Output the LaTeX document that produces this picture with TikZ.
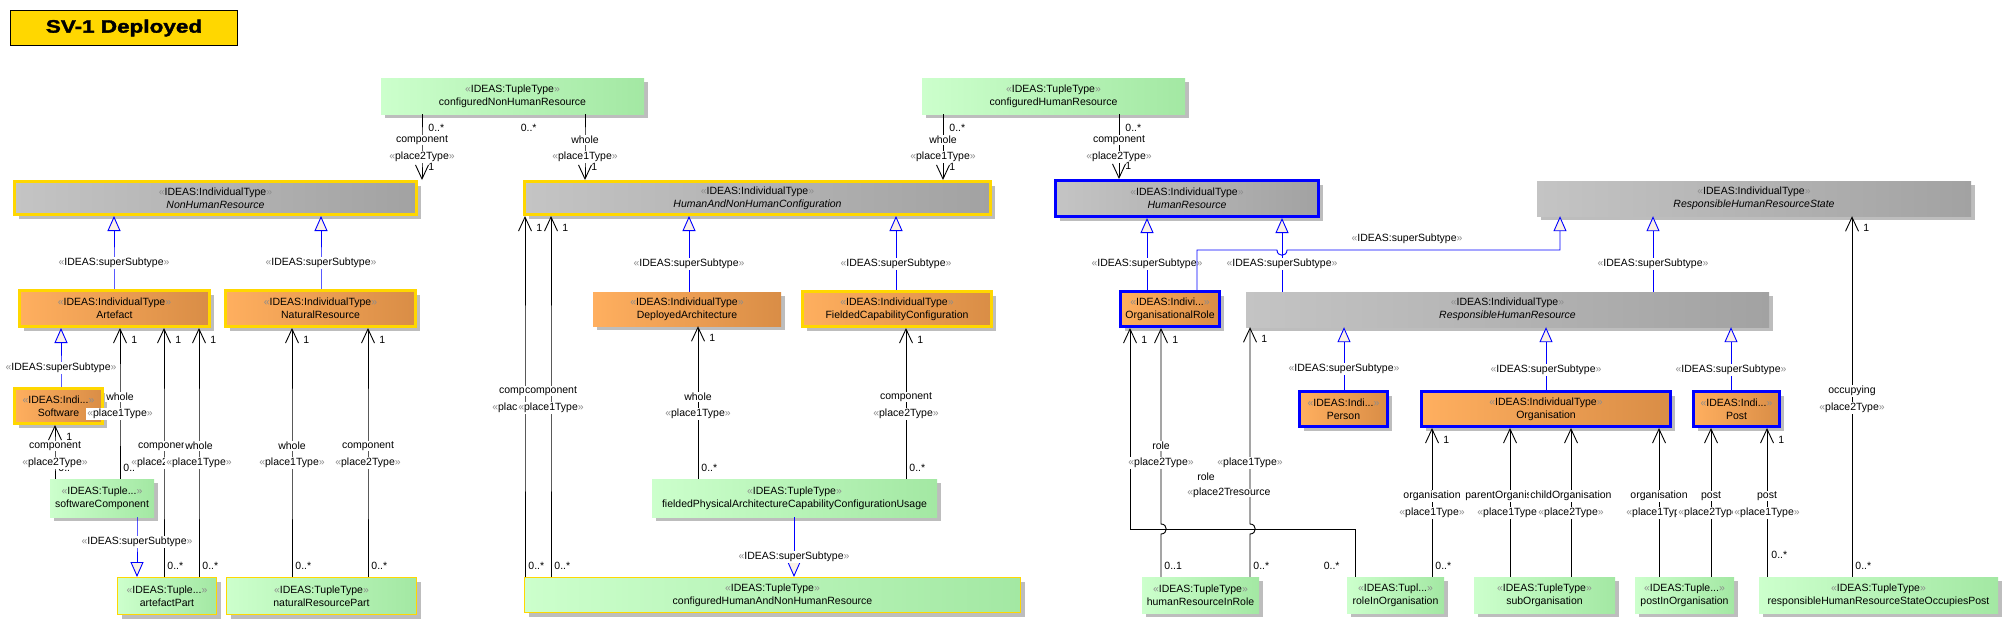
\documentclass[tikz,border=0pt]{standalone}
\usepackage{fontspec}
\setmainfont{Liberation Sans}
\newfontfamily\titlefont[FakeStretch=1.25,FakeBold=2]{Liberation Sans}
\usetikzlibrary{arrows.meta,shadows}

\definecolor{ideasyellow}{HTML}{FFD700}
\definecolor{ideasblue}{HTML}{0000FF}
\definecolor{greyL}{HTML}{C4C4C4}
\definecolor{greyR}{HTML}{A2A2A2}
\definecolor{orangeL}{HTML}{FFAF5F}
\definecolor{orangeR}{HTML}{D98D46}
\definecolor{greenL}{HTML}{CCFFCC}
\definecolor{greenR}{HTML}{A3E8A3}
\definecolor{genfill}{HTML}{FBF1E6}
\definecolor{guil}{HTML}{8C8C8C}
\definecolor{shade}{HTML}{BDBDBD}

\newcommand{\lblfont}{\fontsize{10.5}{13}\selectfont}
\newcommand{\stereo}[1]{{\color{guil}«}#1{\color{guil}»}}

\tikzset{
  box/.style={rectangle, inner sep=0pt, align=center, font=\lblfont,
    drop shadow={shadow xshift=4pt, shadow yshift=-4pt, fill=shade, opacity=1}},
  greybox/.style={box, left color=greyL, right color=greyR},
  orangebox/.style={box, left color=orangeL, right color=orangeR},
  greenbox/.style={box, left color=greenL, right color=greenR},
  yellowline/.style={draw=ideasyellow, line width=3pt},
  blueline/.style={draw=ideasblue, line width=3pt},
  thinyellow/.style={draw=ideasyellow, line width=1pt},
  assoc/.style={line width=0.9pt, -{Straight Barb[length=14pt, width=13pt]}},
  gen/.style={draw=ideasblue, line width=0.9pt, -{Triangle[length=15pt, width=13pt, fill=genfill]}},
  lbl/.style={fill=white, inner sep=1pt, font=\lblfont},
  mult/.style={inner sep=1pt, font=\lblfont},
  onebelow/.style={mult, anchor=north west, xshift=10pt, yshift=-7pt},
  oneabove/.style={mult, anchor=south west, xshift=5pt, yshift=8pt},
  manyabove/.style={mult, anchor=south west, xshift=2pt, yshift=6pt},
  manybelow/.style={mult, anchor=north west, xshift=5pt, yshift=-9pt}
}

\begin{document}
\begin{tikzpicture}[x=1pt, y=-1pt]
        \useasboundingbox (0,0) rectangle (2009,626);

        % Define the nodes
        \node[draw=black, fill=ideasyellow, line width=1pt, minimum width=227pt, minimum height=35pt,
              font=\titlefont\fontsize{18}{20}\selectfont\bfseries] (title) at (124,28) {SV-1 Deployed};

        \node[greenbox, minimum width=263pt, minimum height=36pt] (cnhr) at (512.5,96) {\stereo{IDEAS:TupleType}\\configuredNonHumanResource};
        \node[greenbox, minimum width=263pt, minimum height=36pt] (chr) at (1053.5,96) {\stereo{IDEAS:TupleType}\\configuredHumanResource};

        \node[greybox, yellowline, minimum width=402pt, minimum height=33pt] (nhr) at (215.5,198) {\stereo{IDEAS:IndividualType}\\\textit{NonHumanResource}};
        \node[greybox, yellowline, minimum width=466pt, minimum height=33pt] (hanhc) at (757.5,198) {\stereo{IDEAS:IndividualType}\\\textit{HumanAndNonHumanConfiguration}};
        \node[greybox, blueline, minimum width=263pt, minimum height=36pt] (hr) at (1187,198.5) {\stereo{IDEAS:IndividualType}\\\textit{HumanResource}};
        \node[greybox, minimum width=434pt, minimum height=35pt] (rhrs) at (1754,198.5) {\stereo{IDEAS:IndividualType}\\\textit{ResponsibleHumanResourceState}};

        \node[orangebox, yellowline, minimum width=190pt, minimum height=36pt] (artefact) at (114.5,308.5) {\stereo{IDEAS:IndividualType}\\Artefact};
        \node[orangebox, yellowline, minimum width=190pt, minimum height=36pt] (natres) at (320.5,308.5) {\stereo{IDEAS:IndividualType}\\NaturalResource};
        \node[orangebox, minimum width=188pt, minimum height=34pt] (deparch) at (687,309) {\stereo{IDEAS:IndividualType}\\DeployedArchitecture};
        \node[orangebox, yellowline, minimum width=189pt, minimum height=35pt] (fcc) at (897,309) {\stereo{IDEAS:IndividualType}\\FieldedCapabilityConfiguration};
        \node[orangebox, blueline, minimum width=99pt, minimum height=35pt] (orgrole) at (1170,309) {\stereo{IDEAS:Indivi...}\\OrganisationalRole};
        \node[greybox, minimum width=523pt, minimum height=35pt] (rhr) at (1507.5,309.5) {\stereo{IDEAS:IndividualType}\\\textit{ResponsibleHumanResource}};

        \node[orangebox, yellowline, minimum width=88pt, minimum height=35pt] (software) at (58.5,406) {\stereo{IDEAS:Indi...}\\Software};
        \node[orangebox, blueline, minimum width=88pt, minimum height=35pt] (person) at (1343.5,409) {\stereo{IDEAS:Indi...}\\Person};
        \node[orangebox, blueline, minimum width=249pt, minimum height=35pt] (organisation) at (1546,409) {\stereo{IDEAS:IndividualType}\\Organisation};
        \node[orangebox, blueline, minimum width=86pt, minimum height=35pt] (post) at (1736.5,409) {\stereo{IDEAS:Indi...}\\Post};

        \node[greenbox, minimum width=104pt, minimum height=38pt] (swcomp) at (102,498) {\stereo{IDEAS:Tuple...}\\softwareComponent};
        \node[greenbox, minimum width=285pt, minimum height=38pt] (fpaccu) at (794.5,498) {\stereo{IDEAS:TupleType}\\fieldedPhysicalArchitectureCapabilityConfigurationUsage};

        \node[greenbox, thinyellow, minimum width=99pt, minimum height=37pt] (artpart) at (167,596) {\stereo{IDEAS:Tuple...}\\artefactPart};
        \node[greenbox, thinyellow, minimum width=190pt, minimum height=37pt] (natrespart) at (321.5,596) {\stereo{IDEAS:TupleType}\\naturalResourcePart};
        \node[greenbox, thinyellow, minimum width=496pt, minimum height=35pt] (chanhr) at (772.5,595) {\stereo{IDEAS:TupleType}\\configuredHumanAndNonHumanResource};
        \node[greenbox, minimum width=117pt, minimum height=36pt] (hrinrole) at (1200.5,595) {\stereo{IDEAS:TupleType}\\humanResourceInRole};
        \node[greenbox, minimum width=97pt, minimum height=36pt] (roleinorg) at (1395.5,595) {\stereo{IDEAS:Tupl...}\\roleInOrganisation};
        \node[greenbox, minimum width=141pt, minimum height=36pt] (suborg) at (1544.5,595) {\stereo{IDEAS:TupleType}\\subOrganisation};
        \node[greenbox, minimum width=99pt, minimum height=36pt] (postinorg) at (1684.5,595) {\stereo{IDEAS:Tuple...}\\postInOrganisation};
        \node[greenbox, minimum width=239pt, minimum height=36pt] (rhrsop) at (1878.5,595) {\stereo{IDEAS:TupleType}\\responsibleHumanResourceStateOccupiesPost};

        % Draw the associations
        \draw[assoc] (cnhr.south -| 422,0) node[manybelow]{0..*} -- (422,140) node[lbl]{component}
          -- (422,157) node[lbl]{\stereo{place2Type}} -- (nhr.north -| 422,0) node[oneabove]{1};
        \draw[assoc] (cnhr.south -| 585,0) node[mult, anchor=north east, xshift=-47pt, yshift=-9pt]{0..*} -- (585,140) node[lbl]{whole}
          -- (585,157) node[lbl]{\stereo{place1Type}} -- (hanhc.north -| 585,0) node[oneabove]{1};
        \draw[assoc] (chr.south -| 943,0) node[manybelow]{0..*} -- (943,140) node[lbl]{whole}
          -- (943,157) node[lbl]{\stereo{place1Type}} -- (hanhc.north -| 943,0) node[oneabove]{1};
        \draw[assoc] (chr.south -| 1119,0) node[manybelow]{0..*} -- (1119,140) node[lbl]{component}
          -- (1119,157) node[lbl]{\stereo{place2Type}} -- (hr.north -| 1119,0) node[oneabove]{1};

        \draw[assoc] (swcomp.north -| 55,0) node[manyabove]{0..*} -- (55,463) node[lbl]{\stereo{place2Type}}
          -- (55,446) node[lbl]{component} -- (software.south -| 55,0) node[onebelow]{1};
        \draw[assoc] (swcomp.north -| 120,0) node[manyabove]{0..*} -- (120,414) node[lbl]{\stereo{place1Type}}
          -- (120,397) node[lbl]{whole} -- (artefact.south -| 120,0) node[onebelow]{1};
        \draw[assoc] (artpart.north -| 164,0) node[manyabove]{0..*} -- (164,463) node[lbl]{\stereo{place2Type}}
          -- (164,446) node[lbl]{component} -- (artefact.south -| 164,0) node[onebelow]{1};
        \draw[assoc] (artpart.north -| 199,0) node[manyabove]{0..*} -- (199,463) node[lbl]{\stereo{place1Type}}
          -- (199,446) node[lbl]{whole} -- (artefact.south -| 199,0) node[onebelow]{1};
        \draw[assoc] (natrespart.north -| 292,0) node[manyabove]{0..*} -- (292,463) node[lbl]{\stereo{place1Type}}
          -- (292,446) node[lbl]{whole} -- (natres.south -| 292,0) node[onebelow]{1};
        \draw[assoc] (natrespart.north -| 368,0) node[manyabove]{0..*} -- (368,463) node[lbl]{\stereo{place2Type}}
          -- (368,446) node[lbl]{component} -- (natres.south -| 368,0) node[onebelow]{1};

        \draw[assoc] (chanhr.north -| 525,0) node[manyabove]{0..*} -- (525,408) node[lbl]{\stereo{place2Type}}
          -- (525,391) node[lbl]{component} -- (hanhc.south -| 525,0) node[onebelow]{1};
        \draw[assoc] (chanhr.north -| 551,0) node[manyabove]{0..*} -- (551,408) node[lbl]{\stereo{place1Type}}
          -- (551,391) node[lbl]{component} -- (hanhc.south -| 551,0) node[onebelow]{1};
        \draw[assoc] (fpaccu.north -| 698,0) node[manyabove]{0..*} -- (698,414) node[lbl]{\stereo{place1Type}}
          -- (698,397) node[lbl]{whole} -- (deparch.south -| 698,0) node[onebelow]{1};
        \draw[assoc] (fpaccu.north -| 906,0) node[manyabove]{0..*} -- (906,414) node[lbl]{\stereo{place2Type}}
          -- (906,397) node[lbl]{component} -- (fcc.south -| 906,0) node[onebelow]{1};

        \draw[assoc] (roleinorg.north -| 1355,0) node[mult, anchor=south east, xshift=-14pt, yshift=6pt]{0..*} -- (1355,529) -- (1130,529)
          node[lbl] at (1206,477) {role} node[lbl] at (1220,493) {\stereo{place2Type}} -- (orgrole.south -| 1130,0) node[onebelow]{1};
        \draw[assoc] (hrinrole.north -| 1161,0) node[manyabove]{0..1} -- (1161,534) .. controls (1168,534) and (1168,524) .. (1161,524)
          -- (1161,463) node[lbl]{\stereo{place2Type}} -- (1161,446) node[lbl]{role} -- (orgrole.south -| 1161,0) node[onebelow]{1};
        \draw[assoc] (hrinrole.north -| 1250,0) node[manyabove]{0..*} -- (1250,534) .. controls (1257,534) and (1257,524) .. (1250,524)
          -- (1250,493) node[lbl]{resource} -- (1250,463) node[lbl]{\stereo{place1Type}} -- (rhr.south -| 1250,0) node[onebelow]{1};

        \draw[assoc] (roleinorg.north -| 1432,0) node[manyabove]{0..*} -- (1432,513) node[lbl]{\stereo{place1Type}}
          -- (1432,496) node[lbl]{organisation} -- (organisation.south -| 1432,0) node[onebelow]{1};
        \draw[assoc] (suborg.north -| 1510,0) -- (1510,513) node[lbl]{\stereo{place1Type}}
          -- (1510,496) node[lbl]{parentOrganisation} -- (organisation.south -| 1510,0);
        \draw[assoc] (suborg.north -| 1571,0) -- (1571,513) node[lbl]{\stereo{place2Type}}
          -- (1571,496) node[lbl]{childOrganisation} -- (organisation.south -| 1571,0);
        \draw[assoc] (postinorg.north -| 1659,0) -- (1659,513) node[lbl]{\stereo{place1Type}}
          -- (1659,496) node[lbl]{organisation} -- (organisation.south -| 1659,0);
        \draw[assoc] (postinorg.north -| 1711,0) -- (1711,513) node[lbl]{\stereo{place2Type}}
          -- (1711,496) node[lbl]{post} -- (post.south -| 1711,0);
        \draw[assoc] (rhrsop.north -| 1767,0) node[mult, anchor=south west, xshift=3pt, yshift=17pt]{0..*} -- (1767,513) node[lbl]{\stereo{place1Type}}
          -- (1767,496) node[lbl]{post} -- (post.south -| 1767,0) node[onebelow]{1};
        \draw[assoc] (rhrsop.north -| 1852,0) node[manyabove]{0..*} -- (1852,408) node[lbl]{\stereo{place2Type}}
          -- (1852,391) node[lbl]{occupying} -- (rhrs.south -| 1852,0) node[onebelow]{1};

        % Draw the generalisations
        \draw[gen] (artefact.north -| 114,0) -- (114,263) node[lbl]{\stereo{IDEAS:superSubtype}} -- (nhr.south -| 114,0);
        \draw[gen] (natres.north -| 321,0) -- (321,263) node[lbl]{\stereo{IDEAS:superSubtype}} -- (nhr.south -| 321,0);
        \draw[gen] (software.north -| 61,0) -- (61,368) node[lbl]{\stereo{IDEAS:superSubtype}} -- (artefact.south -| 61,0);
        \draw[gen] (swcomp.south -| 137,0) -- (137,542) node[lbl]{\stereo{IDEAS:superSubtype}} -- (artpart.north -| 137,0);
        \draw[gen] (deparch.north -| 689,0) -- (689,264) node[lbl]{\stereo{IDEAS:superSubtype}} -- (hanhc.south -| 689,0);
        \draw[gen] (fcc.north -| 896,0) -- (896,264) node[lbl]{\stereo{IDEAS:superSubtype}} -- (hanhc.south -| 896,0);
        \draw[gen] (fpaccu.south -| 794,0) -- (794,557) node[lbl]{\stereo{IDEAS:superSubtype}} -- (chanhr.north -| 794,0);
        \draw[gen] (orgrole.north -| 1147,0) -- (1147,264) node[lbl]{\stereo{IDEAS:superSubtype}} -- (hr.south -| 1147,0);
        \draw[gen] (rhr.north -| 1282,0) -- (1282,264) node[lbl]{\stereo{IDEAS:superSubtype}} -- (hr.south -| 1282,0);
        \draw[gen] (orgrole.north -| 1197,0) -- (1197,250) -- (1277,250) .. controls (1277,257) and (1287,257) .. (1287,250)
          -- (1560,250) node[lbl] at (1407,239) {\stereo{IDEAS:superSubtype}} -- (rhrs.south -| 1560,0);
        \draw[gen] (rhr.north -| 1653,0) -- (1653,264) node[lbl]{\stereo{IDEAS:superSubtype}} -- (rhrs.south -| 1653,0);
        \draw[gen] (person.north -| 1344,0) -- (1344,369) node[lbl]{\stereo{IDEAS:superSubtype}} -- (rhr.south -| 1344,0);
        \draw[gen] (organisation.north -| 1546,0) -- (1546,370) node[lbl]{\stereo{IDEAS:superSubtype}} -- (rhr.south -| 1546,0);
        \draw[gen] (post.north -| 1731,0) -- (1731,370) node[lbl]{\stereo{IDEAS:superSubtype}} -- (rhr.south -| 1731,0);
\end{tikzpicture}
\end{document}
